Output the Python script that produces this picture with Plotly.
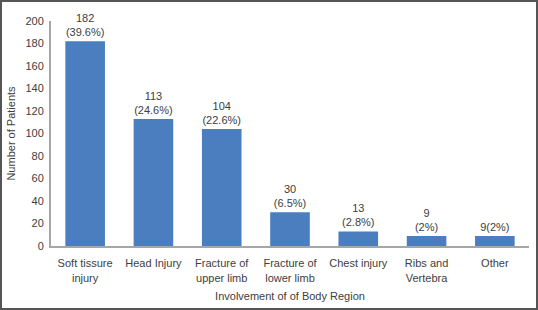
import plotly.graph_objects as go

categories = ["Soft tissure<br>injury", "Head Injury", "Fracture of<br>upper limb",
              "Fracture of<br>lower limb", "Chest injury", "Ribs and<br>Vertebra", "Other"]
patients = [182, 113, 104, 30, 13, 9, 9]
bar_labels = ["182<br>(39.6%)", "113<br>(24.6%)", "104<br>(22.6%)", "30<br>(6.5%)",
              "13<br>(2.8%)", "9<br>(2%)", "9(2%)"]
y_ticks = [0, 20, 40, 60, 80, 100, 120, 140, 160, 180, 200]

W, H = 538, 310
ml, mr, mt, mb = 51, 9, 21, 64
pw, ph = W - ml - mr, H - mt - mb

fig = go.Figure(go.Bar(
    x=categories, y=patients, text=bar_labels, textposition="outside",
    marker=dict(color="#4a7ebf", line=dict(width=0)),
    textfont=dict(size=11, color="#404040"), cliponaxis=False,
))

fig.update_layout(
    width=W, height=H, margin=dict(l=ml, r=mr, t=mt, b=mb),
    paper_bgcolor="white", plot_bgcolor="white",
    font=dict(family="Liberation Sans, Arial, sans-serif", size=11, color="#404040"),
    bargap=0.42, showlegend=False,
    xaxis=dict(showline=True, linecolor="#a6a6a6", linewidth=2,
               ticks="outside", ticklen=6, tickcolor="rgba(0,0,0,0)",
               title=dict(text="Involvement of of Body Region", standoff=10,
                          font=dict(size=11)),
               tickfont=dict(size=11)),
    yaxis=dict(range=[0, 200], tickvals=y_ticks, showgrid=False, zeroline=False,
               showline=True, linecolor="#a6a6a6", linewidth=2,
               ticks="outside", ticklen=3, tickcolor="rgba(0,0,0,0)",
               title=dict(text="Number of Patients", standoff=8, font=dict(size=11)),
               tickfont=dict(size=11)),
    shapes=[dict(type="rect", xref="paper", yref="paper",
                 x0=(1 - ml) / pw, x1=(W - 1 - ml) / pw,
                 y0=-(mb - 1) / ph, y1=1 + (mt - 1) / ph,
                 line=dict(color="#555555", width=2))],
)

fig.write_html("out.html", config={"displayModeBar": False},
               post_script="document.body.style.margin='0';document.body.style.overflow='hidden';")
